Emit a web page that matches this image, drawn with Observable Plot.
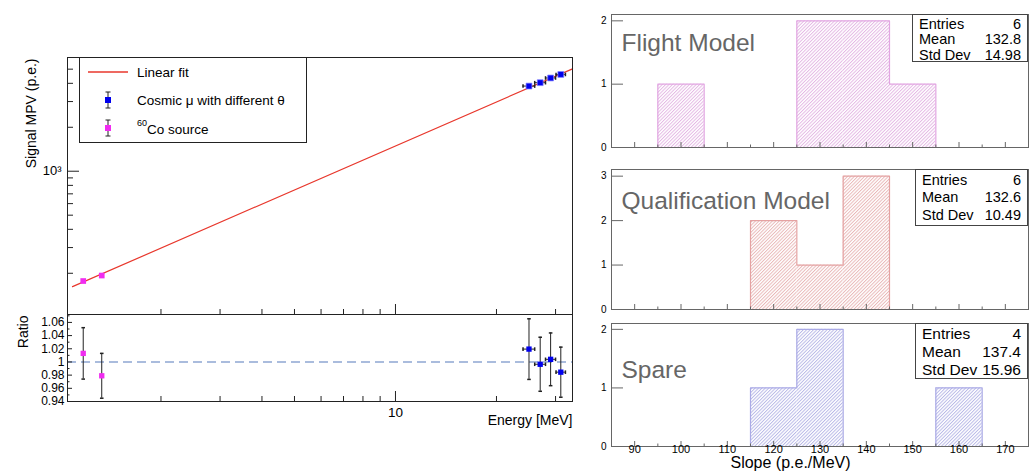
<!DOCTYPE html>
<html><head><meta charset="utf-8">
<script src="https://cdn.jsdelivr.net/npm/d3@7"></script>
<script src="https://cdn.jsdelivr.net/npm/@observablehq/plot@0.6"></script>
<style>
body{margin:0;background:#fff;font-family:"Liberation Sans",Arial,Helvetica,sans-serif;}
#wrap{position:relative;width:1033px;height:475px;overflow:hidden;background:#fff;}
#wrap > svg{position:absolute;overflow:visible;}
.stat{position:absolute;box-sizing:border-box;border:1px solid #444;background:#fff;color:#000;}
.stat .row{display:flex;justify-content:space-between;padding:0 6px 0 6px;white-space:nowrap;}
</style></head><body><div id="wrap"></div>
<script>
// ---------- data (left: calibration) ----------
const fitE = [1.09, 33.7];
const fitMPV = [162, 5025];
const coE = [1.173, 1.332];
const coMPV = [177, 193];
const coRatio = [1.013, 0.979];
const coRatioErr = [0.039, 0.034];
const muE = [25.0, 27.0, 29.0, 31.1];
const muEErr = [1.0, 1.0, 1.0, 1.0];
const muMPV = [3830, 4040, 4350, 4600];
const muRatio = [1.0195, 0.9965, 1.004, 0.9845];
const muRatioErr = [0.046, 0.041, 0.040, 0.038];
const xMinorTicks = [2, 3, 4, 5, 6, 7, 8, 9, 20, 30];
const xMajorTicks = [10];
const xMajorLabels = ["10"];
const yMinorTicks = [200, 300, 400, 500, 600, 700, 800, 900, 2000, 3000, 4000, 5000];
const yMajorTicks = [1000];
const yMajorLabels = ["10\u00b3"];
const ratioTicks = [0.94, 0.96, 0.98, 1, 1.02, 1.04, 1.06];
const ratioLabels = ["0.94", "0.96", "0.98", "1", "1.02", "1.04", "1.06"];
const ratioMinor = [0.95, 0.97, 0.99, 1.01, 1.03, 1.05, 1.07];

// ---------- data (right: slope histograms) ----------
const binEdges = [85, 95, 105, 115, 125, 135, 145, 155, 165, 175];
const flightCounts = [0, 1, 0, 0, 2, 2, 1, 0, 0];
const qualCounts = [0, 0, 0, 2, 1, 3, 0, 0, 0];
const spareCounts = [0, 0, 0, 1, 2, 0, 0, 1, 0];
const histNames = ["Flight Model", "Qualification Model", "Spare"];
const statEntries = ["6", "6", "4"];
const statMean = ["132.8", "132.6", "137.4"];
const statStd = ["14.98", "10.49", "15.96"];
const slopeTicks = [90, 100, 110, 120, 130, 140, 150, 160, 170];
const slopeMinor = [95, 105, 115, 125, 135, 145, 155, 165];

const FONT = '"Liberation Sans", Arial, Helvetica, sans-serif';
const wrap = document.getElementById("wrap");
function place(svg, left, top) { svg.style.left = left + "px"; svg.style.top = top + "px"; wrap.appendChild(svg); return svg; }
const capH = {draw(ctx, size) { const r = Math.sqrt(size / Math.PI); ctx.moveTo(-r, 0); ctx.lineTo(r, 0); }};
const capV = {draw(ctx, size) { const r = Math.sqrt(size / Math.PI); ctx.moveTo(0, -r); ctx.lineTo(0, r); }};
const baseStyle = {fontFamily: FONT, background: "transparent", overflow: "visible", color: "#000"};

const mu = muE.map((e, i) => ({e, ee: muEErr[i], v: muMPV[i], r: muRatio[i], re: muRatioErr[i]}));
const co = coE.map((e, i) => ({e, v: coMPV[i], r: coRatio[i], re: coRatioErr[i]}));
const fit = fitE.map((e, i) => ({e, v: fitMPV[i]}));

const xDomain = [1.053, 33.7];
const mainW = 590, mL = 67, mR = 18;
const plotW = mainW - mL - mR;
const mainH = 314, mT = 57, mainPlotH = mainH - mT;
const INK = "#222";

// ---------- main panel ----------
const main = Plot.plot({
  width: mainW, height: mainH, marginLeft: mL, marginRight: mR, marginTop: mT, marginBottom: 0,
  style: baseStyle,
  x: {type: "log", domain: xDomain, axis: null},
  y: {type: "log", domain: [104.4, 6010], axis: null},
  marks: [
    Plot.line(fit, {x: "e", y: "v", stroke: "#e8372c", strokeWidth: 1.2}),
    Plot.ruleY(mu, {y: "v", x1: d => d.e - d.ee, x2: d => d.e + d.ee, stroke: INK}),
    Plot.dot(mu, {x: d => d.e - d.ee, y: "v", symbol: capV, r: 1.8, stroke: INK}),
    Plot.dot(mu, {x: d => d.e + d.ee, y: "v", symbol: capV, r: 1.8, stroke: INK}),
    Plot.dot(mu, {x: "e", y: "v", symbol: "square", r: 3.3, fill: "#0000ee", stroke: "#8080ff", strokeWidth: 0.7}),
    Plot.dot(co, {x: "e", y: "v", symbol: "square", r: 3.2, fill: "#f02cf0"}),
    Plot.tickY(yMinorTicks, {y: d => d, insetRight: plotW - 6, stroke: INK}),
    Plot.tickY(yMajorTicks, {y: d => d, insetRight: plotW - 12, stroke: INK}),
    Plot.tickX(xMinorTicks, {x: d => d, insetTop: mainPlotH - 5, stroke: INK}),
    Plot.tickX(xMajorTicks, {x: d => d, insetTop: mainPlotH - 10, stroke: INK}),
    Plot.text(yMajorTicks, {y: d => d, text: (d, i) => yMajorLabels[i], frameAnchor: "left", dx: -6, textAnchor: "end", fontSize: 13}),
    Plot.text(["Signal MPV (p.e.)"], {text: d => d, frameAnchor: "top-left", dx: -41, dy: 1, rotate: -90, textAnchor: "end", fontSize: 14}),
    Plot.frame({stroke: INK})
  ]
});
place(main, 0, 0);

// ---------- ratio panel ----------
const rH = 161, rB = 74, rPlotH = rH - rB;
const ratio = Plot.plot({
  width: mainW, height: rH, marginLeft: mL, marginRight: mR, marginTop: 0, marginBottom: rB,
  style: baseStyle,
  x: {type: "log", domain: xDomain, axis: null},
  y: {domain: [0.94, 1.072], axis: null},
  marks: [
    Plot.ruleY([1], {stroke: "#8ea6d2", strokeWidth: 1.6, strokeDasharray: "9,5"}),
    Plot.ruleX(co, {x: "e", y1: d => d.r - d.re, y2: d => d.r + d.re, stroke: INK}),
    Plot.dot(co, {x: "e", y: d => d.r - d.re, symbol: capH, r: 1.8, stroke: INK}),
    Plot.dot(co, {x: "e", y: d => d.r + d.re, symbol: capH, r: 1.8, stroke: INK}),
    Plot.ruleX(mu, {x: "e", y1: d => d.r - d.re, y2: d => d.r + d.re, stroke: INK}),
    Plot.dot(mu, {x: "e", y: d => d.r - d.re, symbol: capH, r: 1.8, stroke: INK}),
    Plot.dot(mu, {x: "e", y: d => d.r + d.re, symbol: capH, r: 1.8, stroke: INK}),
    Plot.ruleY(mu, {y: "r", x1: d => d.e - d.ee, x2: d => d.e + d.ee, stroke: INK}),
    Plot.dot(mu, {x: d => d.e - d.ee, y: "r", symbol: capV, r: 1.8, stroke: INK}),
    Plot.dot(mu, {x: d => d.e + d.ee, y: "r", symbol: capV, r: 1.8, stroke: INK}),
    Plot.dot(co, {x: "e", y: "r", symbol: "square", r: 3.0, fill: "#f02cf0"}),
    Plot.dot(mu, {x: "e", y: "r", symbol: "square", r: 3.0, fill: "#0000ee"}),
    Plot.tickY(ratioTicks, {y: d => d, insetRight: plotW - 5, stroke: INK}),
    Plot.tickY(ratioMinor, {y: d => d, insetRight: plotW - 2.5, stroke: INK}),
    Plot.tickX(xMinorTicks, {x: d => d, insetTop: rPlotH - 5, stroke: INK}),
    Plot.tickX(xMajorTicks, {x: d => d, insetTop: rPlotH - 10, stroke: INK}),
    Plot.text(ratioTicks, {y: d => d, text: (d, i) => ratioLabels[i], frameAnchor: "left", dx: -3, textAnchor: "end", fontSize: 12}),
    Plot.text(xMajorTicks, {x: d => d, text: (d, i) => xMajorLabels[i], frameAnchor: "bottom", dy: 15, fontSize: 13.5}),
    Plot.text(["Energy [MeV]"], {text: d => d, frameAnchor: "bottom-right", textAnchor: "end", dy: 23, fontSize: 14}),
    Plot.text(["Ratio"], {text: d => d, frameAnchor: "top-left", dx: -49, dy: 1, rotate: -90, textAnchor: "end", fontSize: 14}),
    Plot.frame({stroke: INK})
  ]
});
place(ratio, 0, 314);

// ---------- legend ----------
const NS = "http://www.w3.org/2000/svg";
function el(tag, attrs, parent) { const e = document.createElementNS(NS, tag); for (const k in attrs) e.setAttribute(k, attrs[k]); if (parent) parent.appendChild(e); return e; }
const leg = el("svg", {width: 240, height: 100});
leg.style.left = "75px"; leg.style.top = "53px"; leg.style.fontFamily = FONT;
el("rect", {x: 4.5, y: 4.5, width: 227, height: 85, fill: "#fff", stroke: INK, "stroke-width": 1}, leg);
el("line", {x1: 13, x2: 53, y1: 19, y2: 19, stroke: "#e8372c", "stroke-width": 1.6}, leg);
const legItems = [
  {cy: 47, fill: "#0000ee"},
  {cy: 75, fill: "#f02cf0"}
];
for (const it of legItems) {
  el("line", {x1: 33, x2: 33, y1: it.cy - 8, y2: it.cy + 8, stroke: INK}, leg);
  el("line", {x1: 30.5, x2: 35.5, y1: it.cy - 8, y2: it.cy - 8, stroke: INK}, leg);
  el("line", {x1: 30.5, x2: 35.5, y1: it.cy + 8, y2: it.cy + 8, stroke: INK}, leg);
  el("rect", {x: 30, y: it.cy - 3, width: 6, height: 6, fill: it.fill}, leg);
}
const t1 = el("text", {x: 62, y: 19, dy: "0.35em", "font-size": 13.5}, leg); t1.textContent = "Linear fit";
const t2 = el("text", {x: 62, y: 47, dy: "0.35em", "font-size": 13.5}, leg); t2.textContent = "Cosmic \u03bc with different \u03b8";
const t3 = el("text", {x: 62, y: 75, dy: "0.35em", "font-size": 13.5}, leg);
const sup = el("tspan", {"font-size": 9, dy: "-0.2em"}, t3); sup.textContent = "60";
const rest = el("tspan", {dy: "0.55em"}, t3); rest.textContent = "Co source";
wrap.appendChild(leg);

// ---------- histograms ----------
const hW = 443, hL = 21, hR = 5, hPlotW = hW - hL - hR;
const histCfg = [
  {counts: flightCounts, top: 0, height: 155, mT: 14, mB: 8, yMax: 2.1, yTicks: [0, 1, 2], stroke: "#e2a6e2", hatch: "#e3b2e3",
   nameDy: 36, statTop: 14, statH: 48, statFs: 14.5, statLH: 15.6, statPad: 1.5, statLeft: 912},
  {counts: qualCounts, top: 155, height: 160, mT: 14, mB: 6, yMax: 3.15, yTicks: [0, 1, 2, 3], stroke: "#e4a2a2", hatch: "#e8b4b4",
   nameDy: 39, statTop: 169, statH: 57, statFs: 14.5, statLH: 17.6, statPad: 1.5, statLeft: 915},
  {counts: spareCounts, top: 315, height: 160, mT: 8, mB: 29, yMax: 2.1, yTicks: [0, 1, 2], stroke: "#aaaae6", hatch: "#b4b4e6",
   nameDy: 54, statTop: 323, statH: 56, statFs: 15.5, statLH: 18.3, statPad: 0.7, statLeft: 915}
];
histCfg.forEach((cfg, idx) => {
  const bins = cfg.counts.map((c, i) => ({x1: binEdges[i], x2: binEdges[i + 1], c})).filter(b => b.c > 0);
  const step = binEdges.map((e, i) => ({x: e, c: cfg.counts[Math.min(i, cfg.counts.length - 1)]}));
  const plotH = cfg.height - cfg.mT - cfg.mB;
  const marks = [
    Plot.rectY(bins, {x1: "x1", x2: "x2", y: "c", fill: `url(#hatch${idx})`}),
    Plot.line(step, {x: "x", y: "c", curve: "step-after", stroke: cfg.stroke, strokeWidth: 1.2}),
    Plot.frame({stroke: "#666"}),
    Plot.tickY(cfg.yTicks, {y: d => d, insetRight: hPlotW - 12, stroke: "#666"}),
    Plot.text(cfg.yTicks, {y: d => d, text: d => String(d), frameAnchor: "left", dx: -5, textAnchor: "end", fontSize: 10}),
    Plot.tickX(slopeTicks, {x: d => d, insetTop: plotH - 5, stroke: "#666"}),
    Plot.tickX(slopeMinor, {x: d => d, insetTop: plotH - 2.5, stroke: "#666"}),
    Plot.text([histNames[idx]], {text: d => d, frameAnchor: "top-left", dx: 10, dy: cfg.nameDy, lineAnchor: "bottom", textAnchor: "start", fontSize: 24.5, fill: "#666"})
  ];
  if (idx === 2) {
    marks.push(Plot.text(slopeTicks, {x: d => d, text: d => String(d), frameAnchor: "bottom", dy: 6, fontSize: 11}));
    marks.push(Plot.text(["Slope (p.e./MeV)"], {text: d => d, frameAnchor: "bottom-left", dx: 179, dy: 21.5, textAnchor: "middle", fontSize: 16}));
  }
  const svg = Plot.plot({
    width: hW, height: cfg.height, marginLeft: hL, marginRight: hR, marginTop: cfg.mT, marginBottom: cfg.mB,
    style: baseStyle,
    x: {domain: [85, 175], axis: null},
    y: {domain: [0, cfg.yMax], axis: null},
    marks
  });
  const defs = el("defs", {});
  const pat = el("pattern", {id: `hatch${idx}`, patternUnits: "userSpaceOnUse", width: 2.4, height: 2.4, patternTransform: "rotate(45)"}, defs);
  el("rect", {width: 2.4, height: 2.4, fill: "#fff"}, pat);
  el("line", {x1: 0.5, y1: 0, x2: 0.5, y2: 2.4, stroke: cfg.hatch, "stroke-width": 0.9}, pat);
  svg.insertBefore(defs, svg.firstChild);
  place(svg, 590, cfg.top);

  const box = document.createElement("div");
  box.className = "stat";
  box.style.left = cfg.statLeft + "px"; box.style.top = cfg.statTop + "px";
  box.style.width = (1028 - cfg.statLeft) + "px"; box.style.height = cfg.statH + "px";
  box.style.fontSize = cfg.statFs + "px"; box.style.lineHeight = cfg.statLH + "px"; box.style.paddingTop = cfg.statPad + "px";
  const rows = [["Entries", statEntries[idx]], ["Mean", statMean[idx]], ["Std Dev", statStd[idx]]];
  for (const [k, v] of rows) {
    const r = document.createElement("div"); r.className = "row";
    const a = document.createElement("span"); a.textContent = k;
    const b = document.createElement("span"); b.textContent = v;
    r.appendChild(a); r.appendChild(b); box.appendChild(r);
  }
  wrap.appendChild(box);
});
</script></body></html>
